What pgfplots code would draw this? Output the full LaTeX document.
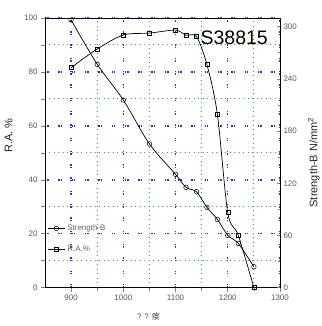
\documentclass[border=0pt]{standalone}
\usepackage{fontspec}
\setmainfont{Liberation Sans}
\newfontfamily\cjk{Noto Sans CJK SC}
\usepackage{pgfplots}
\pgfplotsset{compat=1.18}
\definecolor{gridblue}{RGB}{40,40,255}
\definecolor{gridgreen}{RGB}{0,225,0}

\pgfplotstableread{
x y
900 81.6
950 88.5
1000 93.7
1050 94.4
1100 95.5
1120 93.6
1140 93.1
1160 82.8
1180 64.4
1200 27.8
1220 19.5
1250 0
}\ratable

\pgfplotstableread{
x y
900 307.7
950 256.8
1000 215.7
1050 165.2
1100 130.3
1120 115.4
1140 110.3
1160 92.4
1180 78.6
1200 60.2
1220 51.0
1250 24.1
}\strtable

\begin{document}
\begin{tikzpicture}
\useasboundingbox (-45pt,-38.3pt) rectangle (276pt,287.7pt);
\fill[white] (-45pt,-38.3pt) rectangle (276pt,287.7pt);
\begin{axis}[
  at={(0,0)}, anchor=south west,
  scale only axis, width=235pt, height=269.7pt,
  xmin=850, xmax=1300, ymin=0, ymax=100,
  xtick={900,1000,...,1300}, minor xtick={950,1050,1150,1250},
  ytick={0,20,...,100}, minor ytick={10,30,...,90},
  xtick pos=left, ytick pos=left,
  tick align=outside, major tick length=4pt, minor tick length=3.5pt,
  axis line style={line width=0.8pt},
  tick style={line width=0.6pt},
  xmajorgrids, ymajorgrids, xminorgrids, yminorgrids,
  major grid style={color=gridblue, line width=1.4pt, dash pattern=on 1.4pt off 1pt on 1.4pt off 9.5pt},
  minor grid style={color=gridgreen, line width=1pt, dash pattern=on 1pt off 3.5pt},
  ticklabel style={font=\fontsize{8}{9}\selectfont, text=black!65},
  /pgf/number format/assume math mode=true,
  /pgf/number format/set thousands separator={},
]
\addplot[black, line width=0.7pt, smooth, mark=square, mark size=2pt,
  mark options={fill=white, solid, line width=0.5pt}] table[x=x,y=y] {\ratable};
\end{axis}
\begin{axis}[
  at={(0,0)}, anchor=south west,
  scale only axis, width=235pt, height=269.7pt,
  xmin=850, xmax=1300, ymin=0, ymax=310,
  axis x line=none, axis y line*=right,
  ytick={0,60,...,300}, minor ytick={30,90,...,270},
  tick align=inside, major tick length=3.5pt, minor tick length=2.5pt,
  axis line style={line width=0.8pt},
  tick style={line width=0.6pt},
  ticklabel style={font=\fontsize{8}{9}\selectfont, text=black!65},
  /pgf/number format/assume math mode=true,
  legend style={at={(0.01,0.12)}, anchor=south west, draw=none, fill=none,
    font=\fontsize{8}{9}\selectfont, text=black!60, row sep=10pt, inner sep=0pt},
  legend cell align=left,
]
\addplot[black, line width=0.7pt, smooth, mark=o, mark size=2.3pt,
  mark options={fill=white, solid, line width=0.5pt}] table[x=x,y=y] {\strtable};
\addlegendentry{Strength-B}
\addlegendimage{black, line width=0.7pt, mark=square, mark size=2pt,
  mark options={fill=white, solid, line width=0.5pt}}
\addlegendentry{R.A.\%}
\end{axis}
\node[rotate=90, anchor=base, font=\fontsize{11}{12}\selectfont, text=black!85] at (-32.7pt,152.2pt) {R.A. \%};
\node[rotate=90, anchor=base, font=\fontsize{11}{12}\selectfont, text=black!85] at (272.3pt,125.2pt) {Strength-B N/mm\textsuperscript{2}};
\node[font=\fontsize{19.5}{20}\selectfont] at (189.2pt,249.7pt) {S38815};
\node[font=\fontsize{8}{9}\selectfont, text=black!70] at (103.5pt,-28.3pt) {? ? {\cjk 瘘}};
\end{tikzpicture}
\end{document}
